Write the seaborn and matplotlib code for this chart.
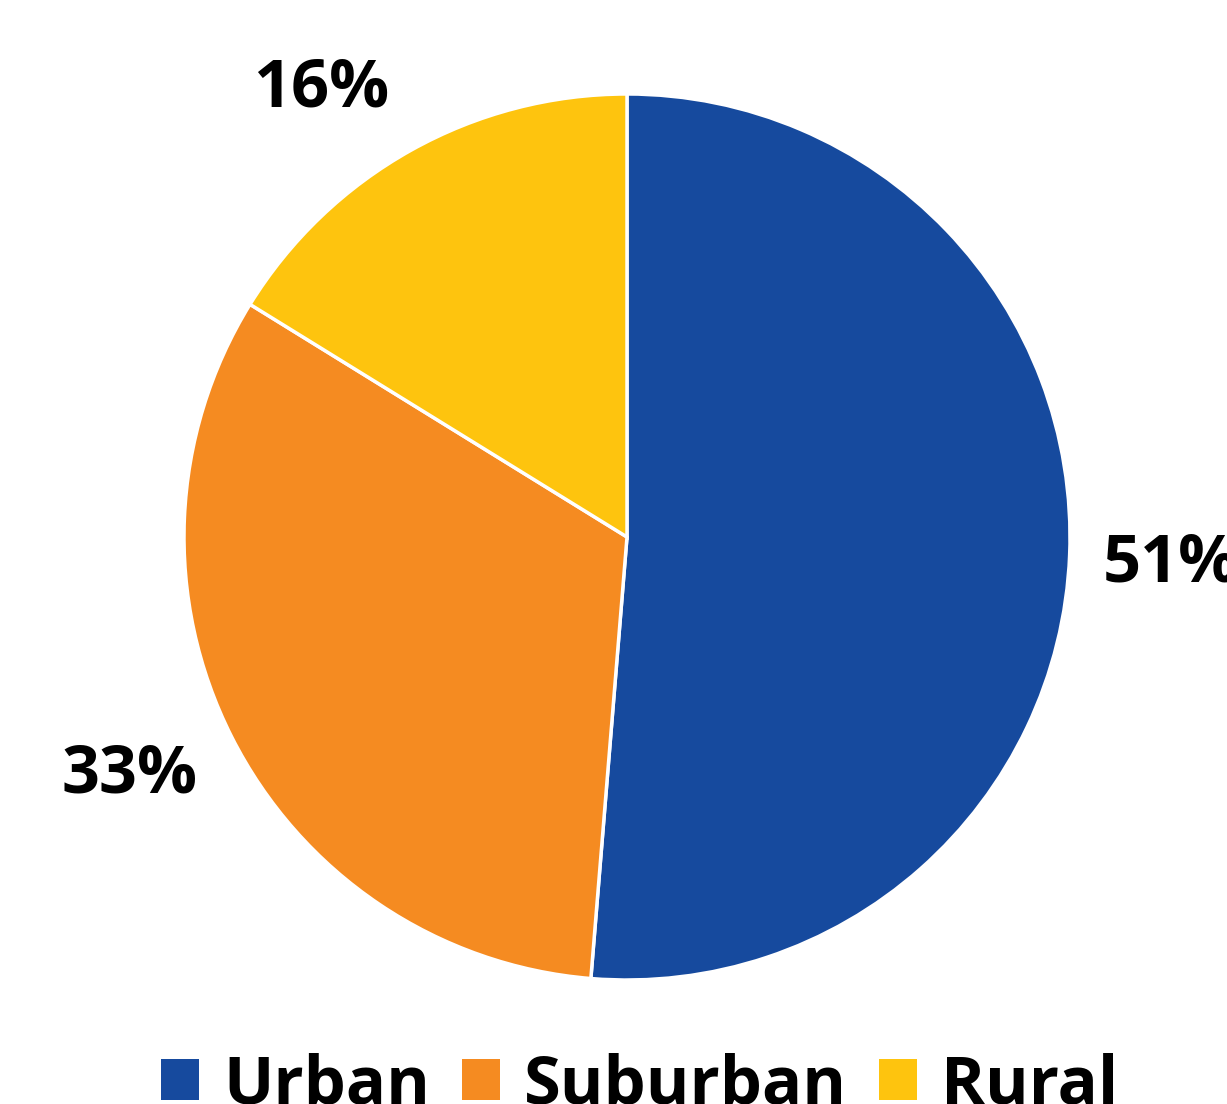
import matplotlib
matplotlib.use("Agg")
import matplotlib.pyplot as plt
import seaborn as sns
from matplotlib.patches import Patch

categories = ["Urban", "Suburban", "Rural"]
values = [51.3, 32.5, 16.2]
pct_labels = ["51%", "33%", "16%"]
colors = ["#164A9E", "#F58B21", "#FEC40E"]
# label anchor points (in pie radius units) for each percentage label
label_x = [1.228, -1.122, -0.691]
label_y = [-0.061, -0.537, 1.011]

sns.set_theme(style="white")
plt.rcParams["font.family"] = ["Open Sans", "DejaVu Sans"]
plt.rcParams["text.color"] = "black"

fig = plt.figure(figsize=(12.27, 11.04), dpi=100)
ax = fig.add_axes([184 / 1227, (1104 - 980) / 1104, 886 / 1227, 886 / 1104])

wedges, _ = ax.pie(
    values,
    colors=colors,
    startangle=90,
    counterclock=False,
    wedgeprops=dict(edgecolor="white", linewidth=2.5),
)
for lx, ly, t in zip(label_x, label_y, pct_labels):
    ax.text(lx, ly, t, ha="center", va="center", fontsize=48,
            fontweight="bold", color="black", clip_on=False)

ax.set_xlim(-1, 1)
ax.set_ylim(-1, 1)
ax.set_aspect("equal")
ax.axis("off")

handles = [Patch(facecolor=c, edgecolor="none") for c in colors]
fig.legend(
    handles, categories,
    loc="upper center", bbox_to_anchor=(0.5216, 0.047),
    ncol=3, frameon=False,
    prop=dict(size=48, weight="bold"),
    labelcolor="black",
    handlelength=0.57, handleheight=0.57, handletextpad=0.36,
    columnspacing=0.48, borderpad=0.0, borderaxespad=0.0,
)

fig.savefig("out.png", dpi=100)
